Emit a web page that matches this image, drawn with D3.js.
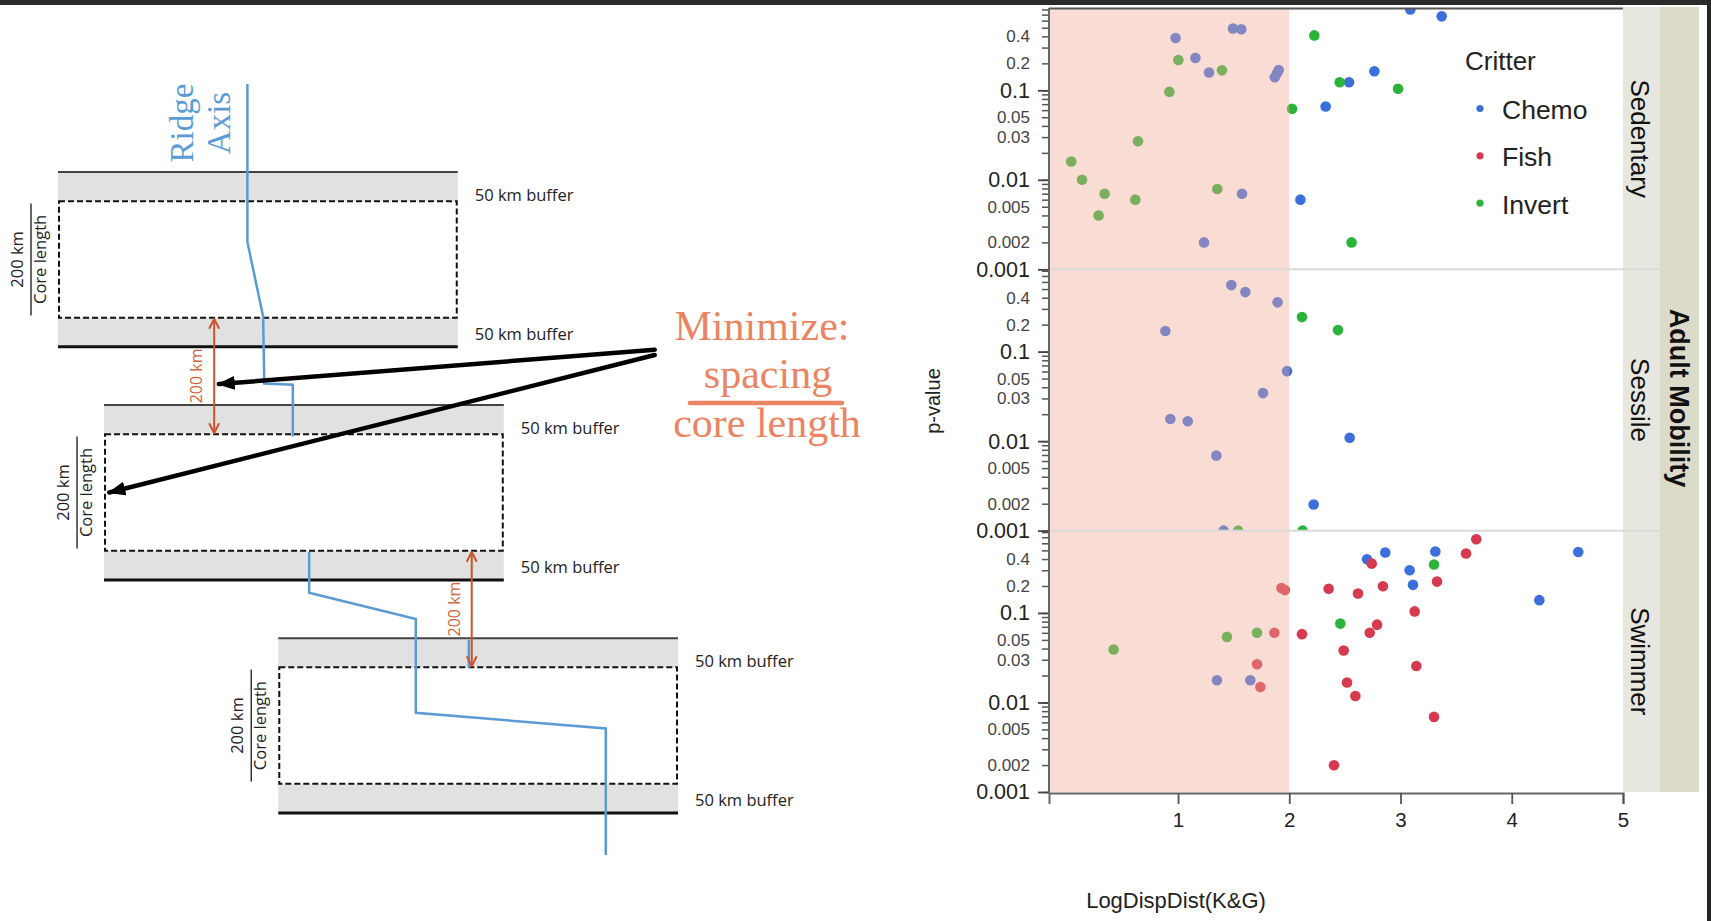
<!DOCTYPE html>
<html>
<head>
<meta charset="utf-8">
<script src="https://cdn.jsdelivr.net/npm/d3@7"></script>
<style>
  body { margin: 0; background: #fff; overflow: hidden; }
  text { font-family: "Liberation Sans", Arial, sans-serif; }
  .schem text { font-family: "Open Sans", "Noto Sans", sans-serif; }
  text.serif { font-family: "Liberation Serif", "Times New Roman", serif; }
</style>
</head>
<body>
<div id="GraphHolder"></div>
<script>
// ---- scatter data, one list per panel and critter: [LogDispDist(K&G), p-value] ----
var panelNames = ["Sedentary", "Sessile", "Swimmer"];
var critters = ["Chemo", "Fish", "Invert"];
var critterColors = ["#3b6fdc", "#d63a4f", "#2cb33a"];

var sedentaryChemo = [[0.978,0.384],[1.156,0.230],[1.279,0.158],[1.494,0.489],[1.569,0.481],
    [1.87,0.14],[1.89,0.155],[1.905,0.168],[1.575,0.0070],[1.234,0.0020],[2.10,0.0060],
    [2.327,0.066],[2.537,0.123],[2.765,0.163],[3.088,0.80],[3.37,0.67]];
var sedentaryFish = [];
var sedentaryInvert = [[0.04,0.016],[0.137,0.0100],[0.34,0.0070],[0.286,0.0040],[0.616,0.0060],
    [0.64,0.027],[0.922,0.096],[1.003,0.218],[1.395,0.167],[1.353,0.0079],[2.025,0.062],
    [2.225,0.41],[2.453,0.123],[2.56,0.0020],[2.978,0.104]];

var sessileChemo = [[1.479,0.553],[1.605,0.462],[1.895,0.355],[0.886,0.170],[1.98,0.0605],
    [1.764,0.0344],[0.931,0.0177],[1.087,0.0167],[1.344,0.0069],[2.543,0.0109],
    [2.219,0.00196],[1.41,0.001]];
var sessileFish = [];
var sessileInvert = [[2.114,0.243],[2.438,0.174],[1.54,0.001],[2.12,0.001]];

var swimmerChemo = [[1.35,0.0177],[1.65,0.0177],[2.863,0.473],[3.313,0.485],[4.598,0.48],
    [2.699,0.398],[3.082,0.30],[3.112,0.206],[4.248,0.139]];
var swimmerFish = [[1.93,0.19],[1.96,0.18],[2.354,0.186],[2.618,0.165],[1.866,0.060],[2.114,0.058],
    [1.71,0.0267],[2.489,0.038],[1.74,0.0149],[2.519,0.0167],[2.594,0.0118],[2.402,0.00199],
    [3.681,0.665],[3.589,0.461],[2.741,0.356],[3.328,0.224],[2.842,0.199],[3.127,0.104],
    [2.789,0.074],[2.723,0.060],[3.142,0.0256],[3.301,0.0069]];
var swimmerInvert = [[2.459,0.076],[1.44,0.054],[1.71,0.060],[0.421,0.039],[3.301,0.348]];

var panelData = [
    [sedentaryChemo, sedentaryFish, sedentaryInvert],
    [sessileChemo, sessileFish, sessileInvert],
    [swimmerChemo, swimmerFish, swimmerInvert]
];

var xDomain = [-0.16, 5];
var xTicks = [1, 2, 3, 4, 5];
var shadeMax = 2;               // pink band: LogDispDist below 2
var yDomain = [0.001, 0.83];
var yMajorTicks = [0.1, 0.01, 0.001];
var yMinorLabels = [0.4, 0.2, 0.05, 0.03, 0.005, 0.002];

// ---- schematic data (km along / across the ridge) ----
var bufferKm = 50, coreKm = 200, spacingKm = 200;
var boxLeftKm = [0, 79, 378];
var boxWidthKm = 686;
var ridgePieces = [
    [[325,-151],[325,120],[352,248],[354,363],[403,365],[403,454]],
    [[431,652],[431,722],[614,767],[614,928],[940,955],[940,1172]],
    [[705,803],[705,851]]
];
var spacingArrowKm = [268, 710];
var pointerStart = [[1024,305],[1024,314]];
var pointerTips = [[276,364],[88,550]];

// ---- svg ----
var svg = d3.select("#GraphHolder").append("svg")
    .attr("width", 1711)
    .attr("height", 921)
    .style("display", "block");

var defs = svg.append("defs");
defs.append("marker")
    .attr("id", "redHead")
    .attr("viewBox", "0 0 12 12")
    .attr("refX", 11).attr("refY", 6)
    .attr("markerWidth", 12).attr("markerHeight", 12)
    .attr("markerUnits", "userSpaceOnUse")
    .attr("orient", "auto-start-reverse")
    .append("path")
    .attr("d", "M1,1 L11,6 L1,11")
    .attr("fill", "none")
    .attr("stroke", "#c9552d")
    .attr("stroke-width", 2);
defs.append("marker")
    .attr("id", "blackHead")
    .attr("viewBox", "0 0 18 14")
    .attr("refX", 16).attr("refY", 7)
    .attr("markerWidth", 18).attr("markerHeight", 14)
    .attr("markerUnits", "userSpaceOnUse")
    .attr("orient", "auto")
    .append("path")
    .attr("d", "M0,0 L18,7 L0,14 Z")
    .attr("fill", "#000");

// ================= left schematic =================
var kmX = d3.scaleLinear().domain([0, 1100]).range([58, 699]);
var kmY = d3.scaleLinear().domain([0, 1100]).range([172, 813]);
var schem = svg.append("g").attr("class", "schem");

boxLeftKm.forEach(function(lk, i) {
    var top = i * (coreKm + spacingKm);
    var coreTop = top + bufferKm, coreBot = coreTop + coreKm, bot = coreBot + bufferKm;
    var x0 = kmX(lk), x1 = kmX(lk + boxWidthKm);
    var g = schem.append("g");
    g.append("rect")
        .attr("x", x0).attr("y", kmY(top))
        .attr("width", x1 - x0).attr("height", kmY(coreTop) - kmY(top))
        .attr("fill", "#e1e1e1");
    g.append("rect")
        .attr("x", x0).attr("y", kmY(coreBot))
        .attr("width", x1 - x0).attr("height", kmY(bot) - kmY(coreBot))
        .attr("fill", "#e1e1e1");
    g.append("line")
        .attr("x1", x0).attr("x2", x1).attr("y1", kmY(top)).attr("y2", kmY(top))
        .attr("stroke", "#444").attr("stroke-width", 2);
    g.append("line")
        .attr("x1", x0).attr("x2", x1).attr("y1", kmY(bot)).attr("y2", kmY(bot))
        .attr("stroke", "#111").attr("stroke-width", 3);
    g.append("rect")
        .attr("x", x0 + 1).attr("y", kmY(coreTop))
        .attr("width", x1 - x0 - 2).attr("height", kmY(coreBot) - kmY(coreTop))
        .attr("fill", "none")
        .attr("stroke", "#111").attr("stroke-width", 2)
        .attr("stroke-dasharray", "6,3");

    // buffer labels
    g.append("text")
        .attr("x", x1 + 17).attr("y", kmY(coreTop))
        .style("font-size", "16.5px").attr("fill", "#222")
        .text(bufferKm + " km buffer");
    g.append("text")
        .attr("x", x1 + 17).attr("y", kmY(bot) - 7)
        .style("font-size", "16.5px").attr("fill", "#222")
        .text(bufferKm + " km buffer");

    // core length fraction
    var cy = kmY(coreTop + coreKm / 2);
    var lab = g.append("g").attr("transform", "translate(" + (x0 - 27) + "," + cy + ") rotate(-90)");
    lab.append("line")
        .attr("x1", -56).attr("x2", 56).attr("y1", 0).attr("y2", 0)
        .attr("stroke", "#333").attr("stroke-width", 1.5);
    lab.append("text")
        .attr("x", 0).attr("y", -8)
        .attr("text-anchor", "middle")
        .style("font-size", "16.5px").attr("fill", "#222")
        .text(coreKm + " km");
    lab.append("text")
        .attr("x", 0).attr("y", 15)
        .attr("text-anchor", "middle")
        .style("font-size", "16.5px").attr("fill", "#222")
        .text("Core length");
});

// ridge axis
var ridgeLine = d3.line()
    .x(function(d) { return kmX(d[0]); })
    .y(function(d) { return kmY(d[1]); });
schem.selectAll(".ridge")
    .data(ridgePieces)
    .enter().append("path")
    .attr("class", "ridge")
    .attr("d", ridgeLine)
    .attr("fill", "none")
    .attr("stroke", "#5b9bd5")
    .attr("stroke-width", 2.5);

var ridgeLab = schem.append("g")
    .style("font-size", "33px")
    .attr("fill", "#5b9bd5");
ridgeLab.append("text")
    .attr("transform", "translate(193,123) rotate(-90)")
    .attr("text-anchor", "middle")
    .attr("class", "serif")
    .text("Ridge");
ridgeLab.append("text")
    .attr("transform", "translate(230,123) rotate(-90)")
    .attr("text-anchor", "middle")
    .attr("class", "serif")
    .text("Axis");

// spacing arrows
spacingArrowKm.forEach(function(ak, i) {
    var y0 = i * (coreKm + spacingKm) + bufferKm + coreKm;
    var y1 = y0 + spacingKm;
    schem.append("line")
        .attr("x1", kmX(ak)).attr("x2", kmX(ak))
        .attr("y1", kmY(y0) + 1).attr("y2", kmY(y1) - 1)
        .attr("stroke", "#c9552d").attr("stroke-width", 2)
        .attr("marker-start", "url(#redHead)")
        .attr("marker-end", "url(#redHead)");
    schem.append("text")
        .attr("transform", "translate(" + (kmX(ak) - 12) + "," + kmY((y0 + y1) / 2) + ") rotate(-90)")
        .attr("text-anchor", "middle")
        .style("font-size", "16px")
        .attr("fill", "#d0653d")
        .text(spacingKm + " km");
});

// black pointers
pointerTips.forEach(function(t, i) {
    schem.append("line")
        .attr("x1", kmX(pointerStart[i][0])).attr("y1", kmY(pointerStart[i][1]))
        .attr("x2", kmX(t[0])).attr("y2", kmY(t[1]))
        .attr("stroke", "#000").attr("stroke-width", 4.5)
        .attr("stroke-linecap", "round")
        .attr("marker-end", "url(#blackHead)");
});

// minimize fraction
var frac = svg.append("g").attr("fill", "#ea8462").style("font-size", "42px");
frac.append("text").attr("class", "serif").attr("x", 762).attr("y", 340)
    .attr("text-anchor", "middle").text("Minimize:");
frac.append("text").attr("class", "serif").attr("x", 768).attr("y", 388)
    .attr("text-anchor", "middle").text("spacing");
frac.append("line").attr("x1", 690).attr("x2", 842).attr("y1", 403).attr("y2", 403)
    .attr("stroke", "#ea8462").attr("stroke-width", 4.5).attr("stroke-linecap", "round");
frac.append("text").attr("class", "serif").attr("x", 767).attr("y", 437)
    .attr("text-anchor", "middle").text("core length");

// ================= right scatter =================
var plot = {left: 1049, right: 1623, top: 8, bottom: 792};
var panelH = (plot.bottom - plot.top) / 3;

var x = d3.scaleLinear().domain(xDomain).range([plot.left, plot.right]);

// minor log ticks inside the y domain
var yMinorTicks = [];
for (var e = -3; e <= -1; e++) {
    for (var k = 1; k <= 9; k++) {
        var v = k * Math.pow(10, e);
        if (v <= yDomain[1]) yMinorTicks.push(v);
    }
}
function minorLabel(d) {
    var m = yMinorLabels.find(function(v) { return Math.abs(v - d) / v < 1e-6; });
    return m ? String(m) : "";
}

var chart = svg.append("g").attr("id", "Graph");

// strips
chart.append("rect")
    .attr("x", plot.right).attr("y", 7)
    .attr("width", 37).attr("height", plot.bottom - 7)
    .attr("fill", "#e8e7df");
chart.append("rect")
    .attr("x", plot.right + 37).attr("y", 7)
    .attr("width", 39).attr("height", plot.bottom - 7)
    .attr("fill", "#dcdac9");

panelNames.forEach(function(name, i) {
    var pTop = plot.top + i * panelH, pBot = pTop + panelH;
    var y = d3.scaleLog().domain(yDomain).range([pBot, pTop]);

    defs.append("clipPath").attr("id", "clip" + i)
        .append("rect")
        .attr("x", plot.left).attr("y", pTop)
        .attr("width", plot.right - plot.left).attr("height", panelH);

    var pg = chart.append("g").attr("clip-path", "url(#clip" + i + ")");
    panelData[i].forEach(function(series, c) {
        pg.selectAll(".pt" + c)
            .data(series)
            .enter().append("circle")
            .attr("class", "pt" + c)
            .attr("cx", function(d) { return x(d[0]); })
            .attr("cy", function(d) { return y(d[1]); })
            .attr("r", 5.3)
            .attr("fill", critterColors[c]);
    });

    // minor ticks + small labels
    var minorAxis = chart.append("g")
        .attr("class", "ytick")
        .attr("transform", "translate(" + plot.left + ",0)")
        .call(d3.axisLeft(y).tickValues(yMinorTicks).tickSize(7).tickPadding(12).tickFormat(minorLabel));
    minorAxis.select(".domain").remove();
    minorAxis.selectAll("line").attr("stroke", "#555").attr("stroke-width", 1.5);
    minorAxis.selectAll("text").style("font-size", "17px").attr("fill", "#444");

    // major ticks
    var majorAxis = chart.append("g")
        .attr("class", "ytick")
        .attr("transform", "translate(" + plot.left + ",0)")
        .call(d3.axisLeft(y).tickValues(yMajorTicks).tickSize(11).tickPadding(8)
            .tickFormat(function(d) { return String(d); }));
    majorAxis.select(".domain").remove();
    majorAxis.selectAll("line").attr("stroke", "#444").attr("stroke-width", 1.8);
    majorAxis.selectAll("text").style("font-size", "21.5px").attr("fill", "#222");

    // strip label
    chart.append("text")
        .attr("transform", "translate(" + (plot.right + 8) + "," + (pTop + panelH / 2) + ") rotate(90)")
        .attr("text-anchor", "middle")
        .style("font-size", "26px")
        .attr("fill", "#111")
        .text(name);
});

// pink band on top of the points
chart.append("rect")
    .attr("x", plot.left).attr("y", plot.top)
    .attr("width", x(shadeMax) - plot.left)
    .attr("height", plot.bottom - plot.top)
    .attr("fill", "rgb(240,170,150)")
    .attr("opacity", 0.4);

// panel separators
[1, 2].forEach(function(i) {
    chart.append("line")
        .attr("x1", plot.left).attr("x2", plot.right + 37)
        .attr("y1", plot.top + i * panelH).attr("y2", plot.top + i * panelH)
        .attr("stroke", "#dadada").attr("stroke-width", 2);
});

// plot frame
chart.append("line")
    .attr("x1", plot.left).attr("x2", plot.right)
    .attr("y1", plot.top + 0.5).attr("y2", plot.top + 0.5)
    .attr("stroke", "#555").attr("stroke-width", 2);
chart.append("line")
    .attr("x1", plot.left).attr("x2", plot.left)
    .attr("y1", plot.top).attr("y2", plot.bottom + 1)
    .attr("stroke", "#666").attr("stroke-width", 2);

// x axis
var xAxis = chart.append("g")
    .attr("transform", "translate(0," + (plot.bottom + 1) + ")")
    .call(d3.axisBottom(x).tickValues(xTicks).tickSize(11).tickSizeOuter(11).tickPadding(8)
        .tickFormat(d3.format("d")));
xAxis.select(".domain").attr("stroke", "#666").attr("stroke-width", 2);
xAxis.selectAll("line").attr("stroke", "#555").attr("stroke-width", 1.8);
xAxis.selectAll("text").style("font-size", "20.5px").attr("fill", "#222");

// axis titles
chart.append("text")
    .attr("x", 1176).attr("y", 908)
    .attr("text-anchor", "middle")
    .style("font-size", "22px")
    .attr("fill", "#222")
    .text("LogDispDist(K&G)");
chart.append("text")
    .attr("transform", "translate(940,401) rotate(-90)")
    .attr("text-anchor", "middle")
    .style("font-size", "20px")
    .attr("fill", "#222")
    .text("p-value");

// outer strip title
chart.append("text")
    .attr("transform", "translate(" + (plot.right + 47) + "," + 398 + ") rotate(90)")
    .attr("text-anchor", "middle")
    .style("font-size", "27px")
    .style("font-weight", "bold")
    .attr("fill", "#111")
    .text("Adult Mobility");

// legend
var legend = chart.append("g");
legend.append("text")
    .attr("x", 1465).attr("y", 70)
    .style("font-size", "26px").attr("fill", "#222")
    .text("Critter");
critters.forEach(function(c, i) {
    legend.append("circle")
        .attr("cx", 1480).attr("cy", 108.5 + i * 47.3)
        .attr("r", 3.6)
        .attr("fill", critterColors[i]);
    legend.append("text")
        .attr("x", 1502).attr("y", 119 + i * 47.3)
        .style("font-size", "26.5px").attr("fill", "#222")
        .text(c);
});

// dark screenshot edges
svg.append("rect").attr("x", 0).attr("y", 0).attr("width", 1711).attr("height", 5).attr("fill", "#2b2b2b");
svg.append("rect").attr("x", 1707).attr("y", 0).attr("width", 4).attr("height", 921).attr("fill", "#242424");
</script>
</body>
</html>
